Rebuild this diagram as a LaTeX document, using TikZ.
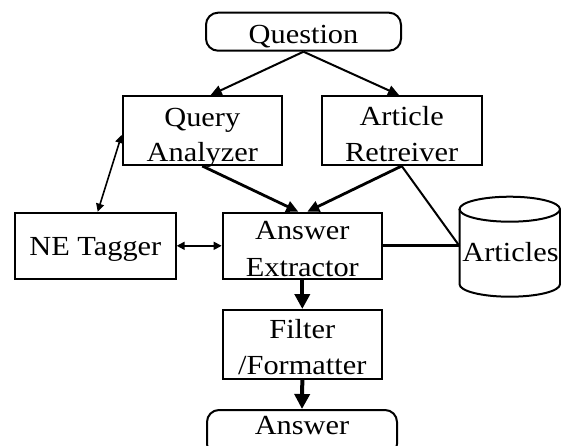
\documentclass[tikz,border=0pt]{standalone}
\usepackage{fontspec}
\setmainfont{Liberation Serif}[FakeStretch=1.1]
\usetikzlibrary{arrows.meta}
\tikzset{
  boxnode/.style={draw, line width=2pt, inner sep=0pt, rectangle},
  termnode/.style={boxnode, rounded corners=12pt},
  txt/.style={inner sep=0pt, anchor=base, font=\fontsize{27.6}{33}\selectfont},
  arrA/.style={line width=2pt, -{Triangle[length=11pt,width=10pt]}},
  arrB/.style={line width=2.8pt, -{Triangle[length=12pt,width=11pt]}},
  arrC/.style={line width=4pt, -{Triangle[length=15pt,width=15pt]}},
  arrD/.style={line width=1.6pt, {Triangle[length=8pt,width=8pt]}-{Triangle[length=8pt,width=8pt]}},
}
\begin{document}
\begin{tikzpicture}[x=1pt,y=-1pt]
\fill[white] (0,0) rectangle (561,445);
\useasboundingbox (0,0) rectangle (561,445);

% boxes
\node[termnode, minimum width=195pt, minimum height=38pt] (q) at (303.5,31.7) {};
\node[boxnode, minimum width=159.3pt, minimum height=69pt] (qa) at (202.3,130.5) {};
\node[boxnode, minimum width=160pt, minimum height=69pt] (ar) at (401.7,130.5) {};
\node[boxnode, minimum width=160.7pt, minimum height=66.3pt] (ne) at (95.3,245.8) {};
\node[boxnode, minimum width=159.3pt, minimum height=66.3pt] (ae) at (302.3,245.8) {};
\node[boxnode, minimum width=159.3pt, minimum height=69pt] (ff) at (302.3,344.5) {};
\node[termnode, minimum width=190pt, minimum height=46pt] (ans) at (302,433) {};

% Articles cylinder
\node[inner sep=0pt, minimum width=100.5pt, minimum height=100pt] (art) at (509.75,246.7) {};
\draw[line width=2pt] (509.75,209.2) ellipse (50.25 and 12.5);
\draw[line width=2pt] (459.5,209.2) -- (459.5,284.2)
  arc (180:0:50.25 and 12.5) -- (560,209.2);

% texts
\node[txt] (qt) at (303.5,43.3) {Question};
\node[txt] (qat1) at (202.3,126) {Query};
\node[txt] (qat2) at (202.3,161) {Analyzer};
\node[txt] (art1) at (401.7,125) {Article};
\node[txt] (art2) at (401.7,161) {Retreiver};
\node[txt] (net) at (95.3,255) {NE Tagger};
\node[txt] (aet1) at (302.3,239.3) {Answer};
\node[txt] (aet2) at (302.3,276) {Extractor};
\node[txt] (fft1) at (302.3,338.3) {Filter};
\node[txt] (fft2) at (302.3,374) {/Formatter};
\node[txt] (anst) at (302,434.5) {Answer};
\node[txt] (artt) at (510.5,261.7) {Articles};

% connectors
\draw[arrA] (q.south) -- ([xshift=8.4pt]qa.north);
\draw[arrA] (q.south) -- ([xshift=-2.7pt]ar.north);
\draw[arrB] (qa.south) -- ([xshift=-4pt]ae.north);
\draw[arrB] (ar.south) -- ([xshift=5pt]ae.north);
\draw[line width=2pt] (ar.south) -- (ae.east -| art.west);
\draw[line width=3pt] (ae.east) -- (ae.east -| art.west);
\draw[arrD] ([yshift=-4.5pt]qa.west) -- ([xshift=2.4pt]ne.north);
\draw[arrD] (ne.east) -- (ae.west);
\draw[arrC] (ae.south) -- (ff.north);
\draw[arrC] (ff.south) -- (ans.north);
\end{tikzpicture}
\end{document}
